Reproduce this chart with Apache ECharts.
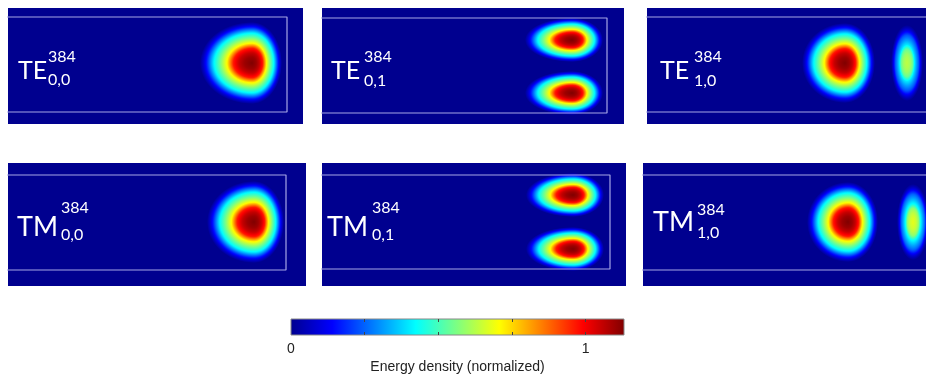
<!DOCTYPE html>
<html><head><meta charset="utf-8">
<script src="https://cdn.jsdelivr.net/npm/echarts@6/dist/echarts.min.js"></script>
<style>html,body{margin:0;padding:0;background:#fff}#c{width:926px;height:376px}</style>
</head><body><div id="c"></div>
<script>
// ================= DATA =================
const modeFamilies = ['TE', 'TE', 'TE', 'TM', 'TM', 'TM'];
const modeIndices  = ['0,0', '0,1', '1,0', '0,0', '0,1', '1,0'];
const modeOrder    = '384';
// field lobes per mode: [xCenter, yCenter, peakEnergy, extentLeft, extentRight, extentVertical] (panel units)
const lobesTE00 = [[244, 55, 1.00, 52, 30, 41]];
const lobesTE01 = [[250, 32, 1.00, 47, 31, 22], [250, 85, 1.00, 47, 31, 22]];
const lobesTE10 = [[198, 55, 1.00, 43, 30, 40], [260, 55, 0.56, 16, 16, 38]];
const lobesTM00 = [[246, 59, 1.00, 47, 30, 41]];
const lobesTM01 = [[251, 32, 1.00, 47, 31, 22], [251, 86, 1.00, 47, 31, 22]];
const lobesTM10 = [[205, 59, 1.00, 41, 30, 40], [270, 59, 0.60, 16, 16, 38]];
// waveguide core outline: [xLeft, xRight, yTop, yBottom] (panel units)
const guideTE00 = [-20, 279, 9, 104];
const guideTE01 = [-20, 285, 10, 105];
const guideTE10 = [-20, 400, 9, 104];
const guideTM00 = [-20, 278, 12, 107];
const guideTM01 = [-20, 288, 12, 106];
const guideTM10 = [-20, 400, 12, 107];
// colour bar
const colorbarTicks  = [0.25, 0.5, 0.75, 1];
const colorbarLabels = [0, 1];
const colorbarTitle  = 'Energy density (normalized)';

// ================= STYLE / LAYOUT =================
const JET = [[0, [0, 0, 143]], [0.125, [0, 0, 255]], [0.375, [0, 255, 255]],
             [0.625, [255, 255, 0]], [0.875, [255, 0, 0]], [1, [128, 0, 0]]];
function jet(v) {
  v = Math.max(0, Math.min(1, v));
  for (let i = 1; i < JET.length; i++) {
    if (v <= JET[i][0]) {
      const a = JET[i - 1], b = JET[i], f = (v - a[0]) / (b[0] - a[0]);
      const c = a[1].map((x, k) => Math.round(x + (b[1][k] - x) * f));
      return 'rgb(' + c.join(',') + ')';
    }
  }
  return 'rgb(128,0,0)';
}
const BG = jet(0);
// radial shape of a lobe: normalised radius -> fraction of peak
const PROF_T = [0, 0.15, 0.25, 0.36, 0.48, 0.6, 0.73, 0.8, 0.87, 0.93, 1];
const PROF_V = [1, 0.97, 0.93, 0.85, 0.63, 0.5, 0.37, 0.26, 0.15, 0.07, 0];
function prof(t) {
  for (let i = 1; i < PROF_T.length; i++) {
    if (t <= PROF_T[i]) {
      const f = (t - PROF_T[i - 1]) / (PROF_T[i] - PROF_T[i - 1]);
      return PROF_V[i - 1] + (PROF_V[i] - PROF_V[i - 1]) * f;
    }
  }
  return 0;
}
function lobeGradient(peak, r) {
  const stops = [];
  for (let i = 0; i <= 50; i++) {
    const t = i / 50;
    stops.push({ offset: t, color: jet(peak * prof(t)) });
  }
  return new echarts.graphic.RadialGradient(0, 0, r, stops, true);
}

const panels = [
  { left: 8,   top: 8,   width: 295, height: 116, lobes: lobesTE00, guide: guideTE00 },
  { left: 322, top: 8,   width: 302, height: 116, lobes: lobesTE01, guide: guideTE01 },
  { left: 647, top: 8,   width: 279, height: 116, lobes: lobesTE10, guide: guideTE10 },
  { left: 8,   top: 163, width: 298, height: 123, lobes: lobesTM00, guide: guideTM00 },
  { left: 322, top: 163, width: 304, height: 123, lobes: lobesTM01, guide: guideTM01 },
  { left: 643, top: 163, width: 283, height: 123, lobes: lobesTM10, guide: guideTM10 }
];
// label anchors (px): main text x / y-centre, script x, sup y-centre, sub y-centre, font sizes
const labelLayout = [
  { x: 18,  y: 71,  sx: 48,  sup: 57,  sub: 80,  big: 25, small: 16 },
  { x: 331, y: 71,  sx: 364, sup: 57,  sub: 81,  big: 25, small: 16 },
  { x: 660, y: 71,  sx: 694, sup: 57,  sub: 81,  big: 25, small: 16 },
  { x: 17,  y: 227, sx: 61,  sup: 208, sub: 235, big: 27, small: 16 },
  { x: 327, y: 227, sx: 372, sup: 208, sub: 235, big: 27, small: 16 },
  { x: 653, y: 222, sx: 697, sup: 210, sub: 233, big: 27, small: 16 }
];

function renderLobe(params, api) {
  const c = api.coord([api.value(0), api.value(1)]);
  const peak = api.value(2);
  const sL = api.size([api.value(3), 0])[0];
  const sR = api.size([api.value(4), 0])[0];
  const sY = api.size([0, api.value(5)])[1];
  return {
    type: 'group', x: c[0], y: c[1],
    children: [
      { type: 'sector', scaleX: sL / sY,
        shape: { cx: 0, cy: 0, r0: 0, r: sY, startAngle: Math.PI / 2 - 0.03, endAngle: Math.PI * 1.5 + 0.03 },
        style: { fill: lobeGradient(peak, sY) } },
      { type: 'sector', scaleX: sR / sY,
        shape: { cx: 0, cy: 0, r0: 0, r: sY, startAngle: -Math.PI / 2, endAngle: Math.PI / 2 },
        style: { fill: lobeGradient(peak, sY) } }
    ]
  };
}

const grid = [], xAxis = [], yAxis = [], series = [], graphic = [];
panels.forEach((p, i) => {
  grid.push({ left: p.left, top: p.top, width: p.width, height: p.height, show: true,
              backgroundColor: BG, borderWidth: 0 });
  xAxis.push({ type: 'value', gridIndex: i, min: 0, max: p.width, show: false });
  yAxis.push({ type: 'value', gridIndex: i, min: 0, max: p.height, inverse: true, show: false });
  series.push({ type: 'custom', xAxisIndex: i, yAxisIndex: i, clip: true, silent: true,
                renderItem: renderLobe, data: p.lobes, z: 2 });
  const g = p.guide;
  series.push({ type: 'line', xAxisIndex: i, yAxisIndex: i, symbol: 'none', silent: true, z: 3,
                lineStyle: { color: '#a6a6e6', width: 1.2 },
                data: [[g[0], g[2]], [g[1], g[2]], [g[1], g[3]], [g[0], g[3]], [g[0], g[2]]] });
  const L = labelLayout[i];
  const ff = 'Lato, "Open Sans", sans-serif';
  graphic.push({ type: 'text', x: L.x, y: L.y, z: 10,
    style: { text: modeFamilies[i], fill: '#fff', font: L.big + 'px ' + ff,
             align: 'left', verticalAlign: 'middle', textAlign: 'left', textVerticalAlign: 'middle' } });
  graphic.push({ type: 'text', x: L.sx, y: L.sup, z: 10,
    style: { text: modeOrder, fill: '#fff', font: L.small + 'px ' + ff,
             align: 'left', verticalAlign: 'middle', textAlign: 'left', textVerticalAlign: 'middle' } });
  graphic.push({ type: 'text', x: L.sx, y: L.sub, z: 10,
    style: { text: modeIndices[i], fill: '#fff', font: L.small + 'px ' + ff,
             align: 'left', verticalAlign: 'middle', textAlign: 'left', textVerticalAlign: 'middle' } });
});

// colour bar
const cbIdx = panels.length;
grid.push({ left: 291, top: 319, width: 333, height: 16 });
const cbAxisCommon = {
  type: 'value', gridIndex: cbIdx, min: 0, max: 1.13, z: 5,
  axisLine: { show: false }, splitLine: { show: false },
  axisTick: { show: true, inside: true, length: 3, customValues: colorbarTicks,
              lineStyle: { color: '#444', width: 1 } }
};
xAxis.push(Object.assign({}, cbAxisCommon, {
  position: 'bottom',
  axisLabel: { show: true, customValues: colorbarLabels, margin: 7, fontSize: 14, color: '#222',
               fontFamily: '"Liberation Sans", Arial, sans-serif' },
  name: colorbarTitle, nameLocation: 'middle', nameGap: 25,
  nameTextStyle: { fontSize: 14, color: '#222', fontFamily: '"Liberation Sans", Arial, sans-serif' }
}));
xAxis.push(Object.assign({}, cbAxisCommon, { position: 'top', axisLabel: { show: false } }));
yAxis.push({ type: 'value', gridIndex: cbIdx, min: 0, max: 1, show: false });
series.push({
  type: 'custom', xAxisIndex: cbIdx, yAxisIndex: cbIdx, silent: true, z: 1,
  data: [[0, 0]],
  renderItem: function (params) {
    const cs = params.coordSys;
    return { type: 'rect', shape: { x: cs.x, y: cs.y, width: cs.width, height: cs.height },
      style: { fill: new echarts.graphic.LinearGradient(0, 0, 1, 0,
                 JET.map(s => ({ offset: s[0], color: 'rgb(' + s[1].join(',') + ')' }))),
               stroke: '#888', lineWidth: 1 } };
  }
});

const chart = echarts.init(document.getElementById('c'), null, { renderer: 'canvas' });
chart.setOption({ animation: false, backgroundColor: '#fff', grid, xAxis, yAxis, series, graphic });
</script></body></html>
